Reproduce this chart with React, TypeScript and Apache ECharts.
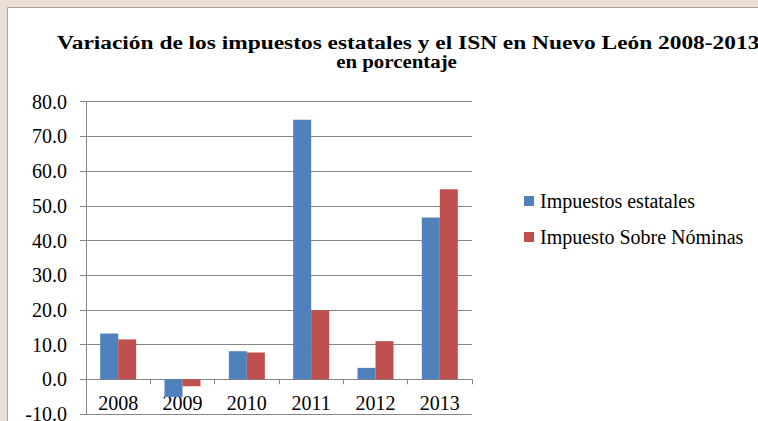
import React, { useEffect, useRef } from "react";
import * as echarts from "echarts";

const categories = ["2008", "2009", "2010", "2011", "2012", "2013"];
const impuestosEstatales = [13.2, -5.1, 8.1, 74.8, 3.3, 46.6];
const impuestoSobreNominas = [11.5, -2.0, 7.7, 19.9, 11.0, 54.8];
const seriesNames = ["Impuestos estatales", "Impuesto Sobre Nóminas"];
const titleLine1 = "Variación de los impuestos estatales y el ISN en Nuevo León 2008-2013";
const titleLine2 = "en porcentaje";

const FONT = "Liberation Serif";

export default function App() {
  const ref = useRef<HTMLDivElement>(null);
  useEffect(() => {
    if (!ref.current) return;
    const chart = echarts.init(ref.current, null, { renderer: "svg" });
    chart.setOption({
      animation: false,
      backgroundColor: "#ecdfd5",
      graphic: [
        {
          type: "rect",
          z: -10,
          shape: { x: 7.5, y: 7.5, width: 800, height: 500 },
          style: { fill: "#ffffff", stroke: "#a6a6a6", lineWidth: 1 },
        },
        {
          type: "text",
          x: 57,
          y: 42.6,
          scaleX: 1.2,
          style: {
            text: titleLine1,
            fontFamily: FONT,
            fontWeight: "bold",
            fontSize: 19.5,
            fill: "#000",
            textAlign: "left",
            textVerticalAlign: "middle",
          },
        },
        {
          type: "text",
          x: 396.5,
          y: 62.4,
          scaleX: 1.16,
          style: {
            text: titleLine2,
            fontFamily: FONT,
            fontWeight: "bold",
            fontSize: 18,
            fill: "#000",
            textAlign: "center",
            textVerticalAlign: "middle",
          },
        },
      ],
      legend: {
        orient: "vertical",
        left: 524,
        top: 191,
        padding: 0,
        itemWidth: 10,
        itemHeight: 10,
        itemGap: 16,
        icon: "rect",
        data: seriesNames,
        textStyle: { fontFamily: FONT, fontSize: 20, color: "#000", padding: [0, 0, 0, 1] },
      },
      grid: {
        left: 86,
        right: 286,
        top: 101.7,
        bottom: 7,
        containLabel: false,
        outerBoundsMode: "none",
      },
      xAxis: {
        type: "category",
        data: categories,
        offset: -34.7,
        axisLine: { onZero: false, lineStyle: { color: "#868686", width: 1 } },
        axisTick: { show: true, length: 5, alignWithLabel: false, lineStyle: { color: "#868686" } },
        axisLabel: { fontFamily: FONT, fontSize: 20, color: "#000", margin: 14, interval: 0 },
        splitLine: { show: false },
      },
      yAxis: {
        type: "value",
        min: -10,
        max: 80,
        interval: 10,
        axisLine: { show: true, lineStyle: { color: "#868686", width: 1 } },
        axisTick: { show: true, length: 6, lineStyle: { color: "#868686" } },
        axisLabel: {
          fontFamily: FONT,
          fontSize: 20,
          color: "#000",
          margin: 19,
          formatter: (v: number) => v.toFixed(1),
        },
        splitLine: { show: true, lineStyle: { color: "#868686", width: 1 } },
      },
      series: [
        {
          name: seriesNames[0],
          type: "bar",
          data: impuestosEstatales,
          barWidth: 18,
          barGap: "0%",
          itemStyle: { color: "#4f81bd" },
        },
        {
          name: seriesNames[1],
          type: "bar",
          data: impuestoSobreNominas,
          barWidth: 18,
          barGap: "0%",
          itemStyle: { color: "#c0504d" },
        },
      ],
    });
    return () => chart.dispose();
  }, []);
  return (
    <div
      ref={ref}
      style={{ position: "fixed", left: 0, top: 0, width: 758, height: 421 }}
    />
  );
}
